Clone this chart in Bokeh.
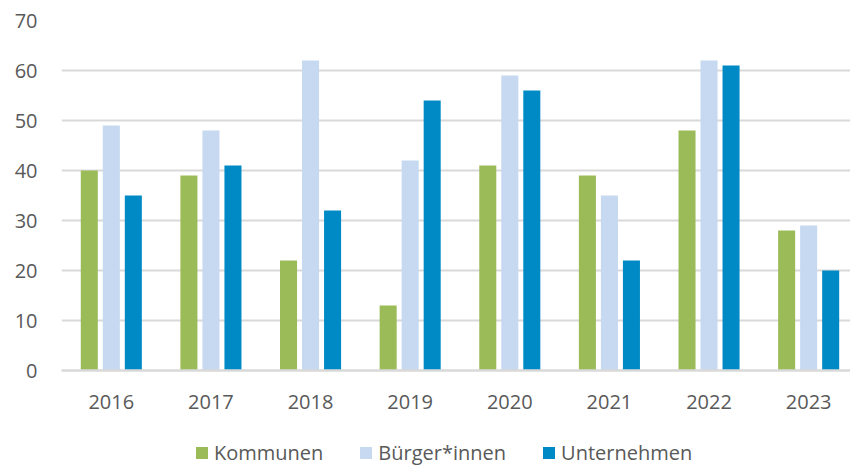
from bokeh.plotting import figure
from bokeh.models import ColumnDataSource, Range1d, FixedTicker, Legend, LegendItem
from bokeh.layouts import column
from bokeh.transform import dodge
from bokeh.embed import file_html
from bokeh.resources import INLINE

years = ["2016", "2017", "2018", "2019", "2020", "2021", "2022", "2023"]
kommunen = [40, 39, 22, 13, 41, 39, 48, 28]
buerger = [49, 48, 62, 42, 59, 35, 62, 29]
unternehmen = [35, 41, 32, 54, 56, 22, 61, 20]
series_names = ["Kommunen", "Bürger*innen", "Unternehmen"]
colors = ["#9BBB59", "#C6D9F0", "#008AC5"]
y_ticks = [0, 10, 20, 30, 40, 50, 60, 70]

idx = list(range(len(years)))
src = ColumnDataSource(dict(x=idx, k=kommunen, b=buerger, u=unternehmen))

FONT = "Open Sans"
TXT = "#595959"

p = figure(width=850, height=420, output_backend="svg", toolbar_location=None,
           x_range=Range1d(-0.5, 7.42), y_range=Range1d(0, 70),
           min_border_left=61, min_border_right=0, min_border_top=20,
           min_border_bottom=50,
           outline_line_color=None, background_fill_color="white")

for col, off, c in zip(["k", "b", "u"], [-0.221, 0.0, 0.221], colors):
    p.vbar(x=dodge("x", off), top=col, width=0.171, source=src,
           fill_color=c, line_color=None)

p.xaxis.ticker = FixedTicker(ticks=idx)
p.xaxis.major_label_overrides = {i: y for i, y in enumerate(years)}
p.yaxis.ticker = FixedTicker(ticks=y_ticks)

for ax in (p.xaxis[0], p.yaxis[0]):
    ax.major_label_text_font = FONT
    ax.major_label_text_font_size = "20px"
    ax.major_label_text_color = TXT
    ax.major_tick_line_color = None
    ax.minor_tick_line_color = None
p.yaxis.axis_line_color = None
p.yaxis.major_label_standoff = 18
p.xaxis.axis_line_color = "#D9D9D9"
p.xaxis.axis_line_width = 2.5
p.xaxis.major_label_standoff = 18

p.xgrid.grid_line_color = None
p.ygrid.grid_line_color = "#D9D9D9"
p.ygrid.grid_line_width = 2
p.ygrid.ticker = FixedTicker(ticks=y_ticks)

# legend strip below the chart (invisible zero-size proxy quads only carry the legend swatches)
lg = figure(width=850, height=48, output_backend="svg", toolbar_location=None,
            x_axis_type=None, y_axis_type=None, x_range=Range1d(0, 1), y_range=Range1d(0, 1),
            min_border=0, outline_line_color=None)
items = []
for n, c in zip(series_names, colors):
    r = lg.quad(left=[-5], right=[-5], top=[-5], bottom=[-5], fill_color=c, line_color=None)
    items.append(LegendItem(label=n, renderers=[r]))
legend = Legend(items=items, orientation="horizontal", location=(133, 2),
                label_text_font=FONT, label_text_font_size="20px", label_text_color=TXT,
                glyph_width=15, glyph_height=15, label_standoff=5, spacing=35,
                border_line_color=None, background_fill_alpha=0, padding=4, margin=0)
lg.add_layout(legend, "center")

layout = column(p, lg, spacing=0)
open("out.html", "w").write(file_html(layout, INLINE))
